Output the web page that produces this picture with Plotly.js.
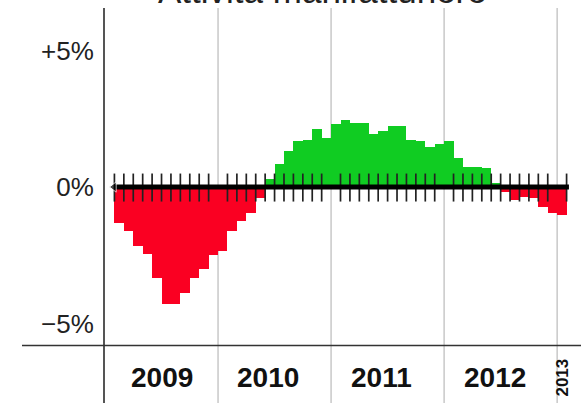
<!DOCTYPE html>
<html><head><meta charset="utf-8">
<script src="https://cdn.plot.ly/plotly-3.0.1.min.js"></script>
<style>html,body{margin:0;padding:0;background:#fff;overflow:hidden}#chart{width:581px;height:403px}</style>
</head><body><div id="chart"></div>
<script>
const titleText = 'Attività manifatturiere';
const months = [
  '2009-02','2009-03','2009-04','2009-05','2009-06','2009-07','2009-08','2009-09','2009-10','2009-11','2009-12',
  '2010-01','2010-02','2010-03','2010-04','2010-05','2010-06','2010-07','2010-08','2010-09','2010-10','2010-11','2010-12',
  '2011-01','2011-02','2011-03','2011-04','2011-05','2011-06','2011-07','2011-08','2011-09','2011-10','2011-11','2011-12',
  '2012-01','2012-02','2012-03','2012-04','2012-05','2012-06','2012-07','2012-08','2012-09','2012-10','2012-11','2012-12',
  '2013-01'
];
const values = [
  -1.33,-1.62,-2.17,-2.46,-3.32,-4.30,-4.30,-3.88,-3.32,-2.99,-2.50,
  -2.34,-1.62,-1.24,-0.97,-0.42,0.29,0.85,1.33,1.68,1.73,2.12,1.79,
  2.32,2.44,2.34,2.34,1.95,2.06,2.22,2.22,1.73,1.67,1.46,1.57,
  1.67,1.06,0.74,0.74,0.69,0.14,-0.17,-0.48,-0.36,-0.42,-0.75,-0.97,
  -1.03
];
const yearLabels = ['2009','2010','2011','2012','2013'];
const yTickVals = [5, 0, -5];
const yTickText = ['+5%', '0%', '\u22125%'];

const baseYear = Number(yearLabels[0]);
const idx = months.map(m => { const p = m.split('-').map(Number); return (p[0]-baseYear)*12 + (p[1]-1); });
const xs = idx.map(i => i + 0.5);
const colors = values.map(v => v >= 0 ? '#10cc22' : '#fa0022');
const lastIdx = idx[idx.length-1];
const bounds = idx.concat([lastIdx+1]).filter(b => b % 12 !== 0);
const yearStarts = yearLabels.slice(1).map(y => (Number(y)-baseYear)*12);

const FONT = 'Liberation Sans, Arial, sans-serif';
const pxPerMonth = 9.42;
const plotW = 581 - 105;

const traces = [
  {type:'bar', x: xs, y: values, width: 1, marker:{color: colors, line:{width:0}}, hoverinfo:'skip'},
  {type:'scatter', mode:'markers', x: bounds, y: bounds.map(() => -0.02),
   marker:{symbol:'line-ns', size:20, line:{width:1.7, color:'#222'}, color:'#222'}, hoverinfo:'skip'},
  {type:'scatter', mode:'lines+markers', x:[idx[0]-0.05, lastIdx+1.25], y:[0,0],
   line:{color:'#000', width:5}, marker:{symbol:['triangle-left','circle'], size:[9,0], color:'#000'}, hoverinfo:'skip'}
];

const shapes = yearStarts.map(s => ({type:'line', xref:'x', yref:'paper', x0:s, x1:s, y0:0, y1:1,
  line:{color:'#c8c8c8', width:1.5}, layer:'below'}));
shapes.push({type:'line', xref:'paper', yref:'y', x0:-83/plotW, x1:1, y0:-5.81, y1:-5.81,
  line:{color:'#333', width:1.5}});

const annotations = [{text: titleText, xref:'paper', yref:'paper', x:(322-105)/plotW, y:0.99,
  xanchor:'center', yanchor:'bottom', showarrow:false, font:{family:FONT, size:35, color:'#222'}}];
yearLabels.forEach((y, k) => {
  const s = (Number(y)-baseYear)*12;
  if (s + 12 <= lastIdx + 1) {
    annotations.push({text:y, xref:'x', yref:'y', x: s + (k === 0 ? 6 : 5.35), y:-6.98, showarrow:false,
      xanchor:'center', yanchor:'middle', font:{family:FONT, size:28, color:'#111', weight:'bold'}});
  } else {
    annotations.push({text:y, xref:'x', yref:'y', x:s+0.62, y:-6.98, showarrow:false, textangle:-90,
      xanchor:'center', yanchor:'middle', font:{family:FONT, size:17, color:'#111', weight:'bold'}});
  }
});

const layout = {
  width:581, height:403,
  margin:{l:105, r:0, t:8, b:0, pad:0},
  paper_bgcolor:'#fff', plot_bgcolor:'#fff',
  showlegend:false, bargap:0,
  xaxis:{range:[0, plotW/pxPerMonth], showgrid:false, zeroline:false, showticklabels:false, ticks:'', showline:false, fixedrange:true},
  yaxis:{range:[-(403-187)/27.3, (187-8)/27.3], tickvals:yTickVals, ticktext:yTickText, showgrid:false, zeroline:false,
    showline:true, linecolor:'#555', linewidth:2, ticks:'', ticklabelstandoff:4,
    tickfont:{family:FONT, size:26, color:'#222'}, fixedrange:true},
  shapes: shapes,
  annotations: annotations
};
Plotly.newPlot('chart', traces, layout, {displayModeBar:false, staticPlot:true});
</script>
</body></html>
